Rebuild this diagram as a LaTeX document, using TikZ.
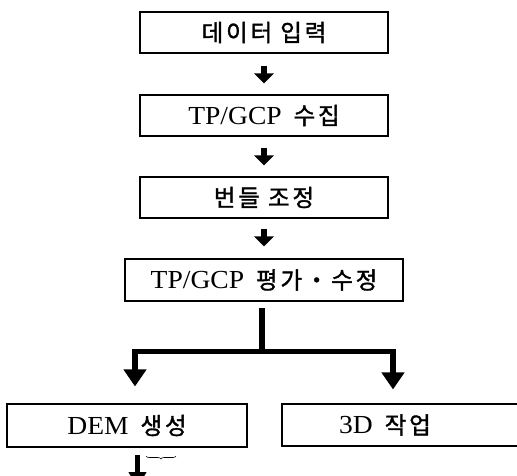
\documentclass[tikz,border=0pt]{standalone}
\usepackage{fontspec}
\setmainfont{Liberation Serif}[FakeStretch=1.06]
\newfontfamily\krfam{Noto Sans CJK KR}[LetterSpace=12, FakeBold=1.4]
\newcommand\kr{\krfam\fontsize{23.5}{26}\selectfont}
\newcommand\gapkr{\hspace{5pt}}
\usetikzlibrary{arrows.meta,decorations.pathreplacing}
\tikzset{
  box/.style={draw=black, line width=1.1pt, minimum width=248pt, minimum height=41pt, inner sep=0pt, font=\fontsize{26}{29}\selectfont},
  txt/.style={inner sep=0pt, font=\fontsize{26}{29}\selectfont},
  arr/.style={line width=6pt, -{Triangle[width=19pt,length=10pt]}},
  bigarr/.style={line width=5.5pt, -{Triangle[width=22pt,length=17pt]}},
  bar/.style={line width=5.5pt}
}
\begin{document}
\begin{tikzpicture}[x=1pt,y=-1pt]
\useasboundingbox (0,0) rectangle (517,475);
\clip (0,0) rectangle (517,475);
\node[box] (b1) at (264,32.5) {\kr 데이터 입력};
\node[box] (b2) at (264,115.5) {TP/GCP\gapkr{} {\kr 수집}};
\node[box] (b3) at (264,197.5) {\kr 번들 조정};
\node[box, minimum width=278pt, minimum height=42pt] (b4) at (264,280) {TP/GCP\gapkr{} {\kr 평가・수정}};
\node[box, minimum width=240pt, minimum height=43pt] (b5) at (127,425.5) {DEM\gapkr{} {\kr 생성}};
\node[box, minimum width=260pt, minimum height=42pt] (b6) at (412,425) {};
\node[txt] (t6) at (385,425) {3D\gapkr{} {\kr 작업}};

\draw[arr] ([yshift=-12pt]b1.south) -- ([yshift=11pt]b2.north);
\draw[arr] ([yshift=-11pt]b2.south) -- ([yshift=11pt]b3.north);
\draw[arr] ([yshift=-10pt]b3.south) -- ([yshift=12pt]b4.north);

\coordinate (j1) at (262,308);
\coordinate (j2) at (262,351.5);
\coordinate (jl) at (135,351.5);
\coordinate (jr) at (393,351.5);
\draw[bar] (j1) -- (j2);
\draw[bar] ([xshift=-2.75pt]jl) -- ([xshift=2.75pt]jr);
\draw[bigarr] ([yshift=2.5pt]jl) -- ([yshift=17pt]b5.north west -| jl);
\draw[bigarr] ([yshift=2.5pt]jr) -- ([yshift=14pt]b6.north west -| jr);

\coordinate (d1) at (137.5,455);
\coordinate (d2) at (137.5,488);
\draw[line width=5.5pt, -{Triangle[width=17pt,length=16pt]}] (d1) -- (d2);
\coordinate (br1) at (146,456);
\coordinate (br2) at (176,456);
\draw[line width=0.6pt, decorate, decoration={brace, mirror, amplitude=3pt}] (br1) -- (br2);
\end{tikzpicture}
\end{document}
